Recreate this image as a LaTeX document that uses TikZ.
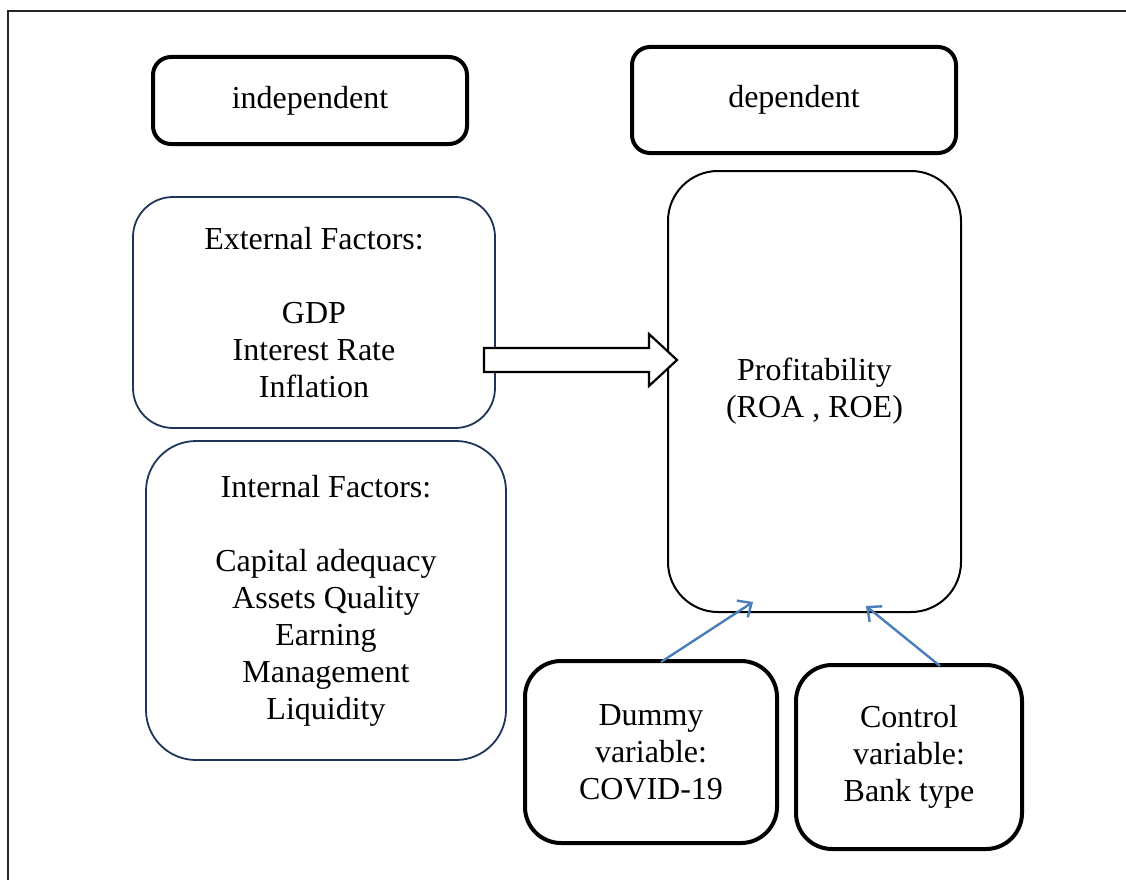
\documentclass[tikz,border=0pt]{standalone}
\usepackage{fontspec}
\setmainfont{Liberation Serif}
\usetikzlibrary{arrows.meta}
\definecolor{navy}{HTML}{1F3458}
\definecolor{linkblue}{HTML}{4A7EBB}
\tikzset{
  boxfont/.style={font=\fontsize{32}{37}\selectfont},
  thickbox/.style={draw=black, line width=4pt, rounded corners=18pt, align=center, inner sep=0pt, boxfont},
  navybox/.style={draw=navy, line width=1.8pt, rounded corners=40pt, align=center, inner sep=0pt, boxfont},
  thinbox/.style={draw=black, line width=2pt, rounded corners=50pt, align=center, inner sep=0pt, boxfont},
  link/.style={draw=linkblue, line width=2.4pt, -{Straight Barb[length=11pt,width=20pt,line width=2.4pt]}},
}
\begin{document}
\begin{tikzpicture}[x=1pt,y=-1pt]
\useasboundingbox (0,0) rectangle (1126,880);
\draw[line width=1.6pt, black!85] (8,880) -- (8,11) -- (1126,11);

\node[thickbox, minimum width=314pt, minimum height=87pt] (indep) at (310,100.5) {independent};
\node[thickbox, minimum width=324pt, minimum height=106pt] (dep) at (794,100) {dependent};

\node[navybox, minimum width=362pt, minimum height=231pt] (ext) at (314,312.5)
  {External Factors:\\[37pt]GDP\\Interest Rate\\Inflation};
\node[navybox, rounded corners=50pt, minimum width=360pt, minimum height=319pt] (int) at (326,600.5)
  {Internal Factors:\\[37pt]Capital adequacy\\Assets Quality\\Earning\\Management\\Liquidity};

\node[thinbox, minimum width=293pt, minimum height=441pt] (prof) at (814.5,391.5)
  {Profitability\\(ROA , ROE)};

\node[thickbox, rounded corners=36pt, minimum width=252pt, minimum height=182pt] (dummy) at (651,752)
  {Dummy\\variable:\\COVID-19};
\node[thickbox, rounded corners=36pt, minimum width=226pt, minimum height=184pt] (control) at (909,757)
  {Control\\variable:\\Bank type};

% block arrow from external to profitability
\draw[line width=2.2pt, fill=white, line join=miter]
  (484,348) -- (649,348) -- (649,334) -- (677,360) -- (649,386) -- (649,372) -- (484,372) -- cycle;

\coordinate (d1) at (661,662);
\coordinate (d2) at (753,602);
\coordinate (c1) at (940,666);
\coordinate (c2) at (866,606);
\draw[link] (d1) -- (d2);
\draw[link] (c1) -- (c2);
\end{tikzpicture}
\end{document}
